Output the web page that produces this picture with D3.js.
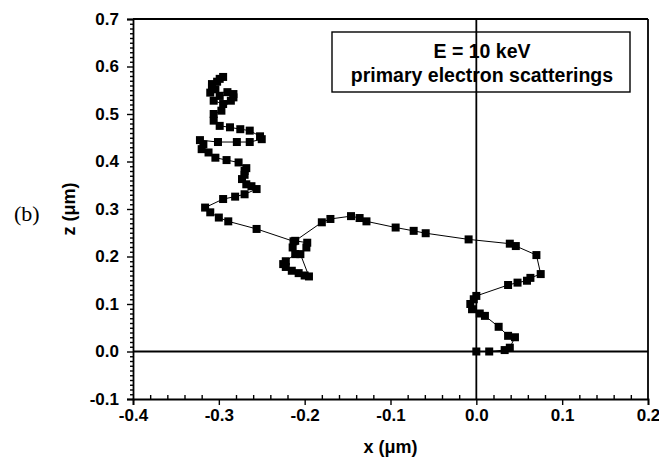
<!DOCTYPE html>
<html>
<head>
<meta charset="utf-8">
<script src="https://cdn.jsdelivr.net/npm/d3@7"></script>
<style>
  body { margin: 0; background: #fff; }
  svg text { font-family: "Liberation Sans", Arial, sans-serif; fill: #000; }
</style>
</head>
<body>
<svg id="chart" width="659" height="460"></svg>
<script>
// trajectory of one primary electron (x, z in µm), in order
const xs = [0.000, 0.015, 0.033, 0.039, 0.045, 0.037, 0.026, 0.010, 0.004, -0.005, -0.007, -0.003, 0.000,
  0.037, 0.048, 0.059, 0.063, 0.075, 0.070, 0.046, 0.039, -0.009, -0.059, -0.073, -0.094, -0.128, -0.136, -0.146,
  -0.170, -0.180, -0.211, -0.197, -0.198, -0.205, -0.195, -0.200, -0.207, -0.215, -0.222, -0.225, -0.222, -0.211, -0.214, -0.213,
  -0.256, -0.289, -0.300, -0.310, -0.316, -0.295, -0.281, -0.270, -0.256, -0.262, -0.268, -0.273, -0.270, -0.270, -0.268,
  -0.277, -0.291, -0.304, -0.312, -0.320, -0.318, -0.322, -0.301, -0.279, -0.264, -0.250, -0.252, -0.264, -0.275, -0.287,
  -0.299, -0.306, -0.306, -0.297, -0.283, -0.286, -0.295, -0.306, -0.299, -0.283, -0.290, -0.310, -0.304, -0.308, -0.308,
  -0.302, -0.299, -0.295];
const zs = [0.000, 0.000, 0.003, 0.008, 0.030, 0.033, 0.052, 0.075, 0.080, 0.089, 0.100, 0.110, 0.117,
  0.140, 0.145, 0.149, 0.155, 0.163, 0.203, 0.222, 0.227, 0.236, 0.249, 0.254, 0.261, 0.274, 0.281, 0.285,
  0.279, 0.272, 0.233, 0.229, 0.219, 0.205, 0.158, 0.160, 0.165, 0.170, 0.178, 0.184, 0.190, 0.205, 0.219, 0.232,
  0.258, 0.274, 0.282, 0.293, 0.303, 0.321, 0.326, 0.331, 0.342, 0.348, 0.352, 0.363, 0.372, 0.380, 0.386,
  0.398, 0.403, 0.408, 0.419, 0.426, 0.436, 0.445, 0.441, 0.441, 0.441, 0.447, 0.453, 0.465, 0.468, 0.472,
  0.475, 0.486, 0.500, 0.507, 0.535, 0.528, 0.521, 0.528, 0.538, 0.542, 0.546, 0.545, 0.552, 0.556, 0.563,
  0.568, 0.574, 0.578];

const xTicks = [-0.4, -0.3, -0.2, -0.1, 0.0, 0.1, 0.2];
const zTicks = [-0.1, 0.0, 0.1, 0.2, 0.3, 0.4, 0.5, 0.6, 0.7];
const legendLines = ["E = 10 keV", "primary electron scatterings"];

const svg = d3.select("#chart");
const margin = { left: 133, right: 11, top: 19, bottom: 61 };
const W = 659, H = 460;

const x = d3.scaleLinear().domain([-0.4, 0.2]).range([margin.left, W - margin.right]);
const y = d3.scaleLinear().domain([-0.1, 0.7]).range([H - margin.bottom, margin.top]);
const fmt = d => d3.format(".1f")(d).replace("\u2212", "-");

// minor ticks
svg.append("g")
  .attr("transform", `translate(0,${y(-0.1)})`)
  .call(d3.axisBottom(x).tickValues(d3.range(-0.38, 0.2, 0.02).filter(v => Math.abs(v * 10 - Math.round(v * 10)) > 0.01)).tickSize(-4).tickFormat(""))
  .call(g => g.select(".domain").remove())
  .selectAll("line").attr("stroke-width", 1.2);

svg.append("g")
  .attr("transform", `translate(${x(-0.4)},0)`)
  .call(d3.axisLeft(y).tickValues(d3.range(-0.09, 0.7, 0.01).filter(v => Math.abs(v * 10 - Math.round(v * 10)) > 0.01)).tickSize(3).tickFormat(""))
  .call(g => g.select(".domain").remove())
  .selectAll("line").attr("stroke-width", 1.2);

// major axes
const xAxis = svg.append("g")
  .attr("transform", `translate(0,${y(-0.1)})`)
  .call(d3.axisBottom(x).tickValues(xTicks).tickSize(6).tickPadding(4).tickFormat(fmt));
xAxis.selectAll("text").style("font-size", "17px").style("font-weight", "bold");

const yAxis = svg.append("g")
  .attr("transform", `translate(${x(-0.4)},0)`)
  .call(d3.axisLeft(y).tickValues(zTicks).tickSize(6).tickPadding(8).tickFormat(fmt));
yAxis.selectAll("text").style("font-size", "17px").style("font-weight", "bold");

svg.selectAll(".domain").attr("stroke-width", 1.8);
svg.selectAll(".tick line").attr("stroke-width", 1.4);

// frame top and right
svg.append("line").attr("x1", x(-0.4)).attr("x2", x(0.2)).attr("y1", y(0.7)).attr("y2", y(0.7))
  .attr("stroke", "#000").attr("stroke-width", 1.8);
svg.append("line").attr("x1", x(0.2)).attr("x2", x(0.2)).attr("y1", y(0.7)).attr("y2", y(-0.1))
  .attr("stroke", "#000").attr("stroke-width", 1.8);

// zero lines
svg.append("line").attr("x1", x(-0.4)).attr("x2", x(0.2)).attr("y1", y(0)).attr("y2", y(0))
  .attr("stroke", "#000").attr("stroke-width", 1.8);
svg.append("line").attr("x1", x(0)).attr("x2", x(0)).attr("y1", y(0.7)).attr("y2", y(-0.1))
  .attr("stroke", "#000").attr("stroke-width", 1.8);

// legend box
const lx0 = 332, ly0 = 32, lx1 = 630, ly1 = 92;
svg.append("rect").attr("x", lx0).attr("y", ly0).attr("width", lx1 - lx0).attr("height", ly1 - ly0)
  .attr("fill", "#fff").attr("stroke", "#000").attr("stroke-width", 1.4);
svg.selectAll(".leg").data(legendLines).enter().append("text")
  .attr("x", (lx0 + lx1) / 2 + 1)
  .attr("y", (d, i) => 58 + i * 24)
  .attr("text-anchor", "middle")
  .style("font-size", "19.5px").style("font-weight", "bold")
  .text(d => d);
// the zero line passes over the legend
svg.append("line").attr("x1", x(0)).attr("x2", x(0)).attr("y1", ly0).attr("y2", ly1)
  .attr("stroke", "#000").attr("stroke-width", 1.8);

// trajectory
const pts = xs.map((v, i) => [v, zs[i]]);
svg.append("path")
  .datum(pts)
  .attr("fill", "none").attr("stroke", "#000").attr("stroke-width", 1)
  .attr("d", d3.line().x(d => x(d[0])).y(d => y(d[1])));
svg.selectAll(".pt").data(pts).enter().append("rect")
  .attr("x", d => x(d[0]) - 4).attr("y", d => y(d[1]) - 4)
  .attr("width", 8).attr("height", 8).attr("fill", "#000");

// labels
svg.append("text").attr("x", (x(-0.4) + x(0.2)) / 2).attr("y", 453)
  .attr("text-anchor", "middle").style("font-size", "18px").style("font-weight", "bold").text("x (\u03bcm)");
svg.append("text").attr("transform", "translate(75,209) rotate(-90)")
  .attr("text-anchor", "middle").style("font-size", "18px").style("font-weight", "bold").text("z (\u03bcm)");
svg.append("text").attr("x", 14).attr("y", 221)
  .style("font-family", "'Liberation Serif', 'Times New Roman', serif").style("font-size", "22px").text("(b)");
</script>
</body>
</html>
